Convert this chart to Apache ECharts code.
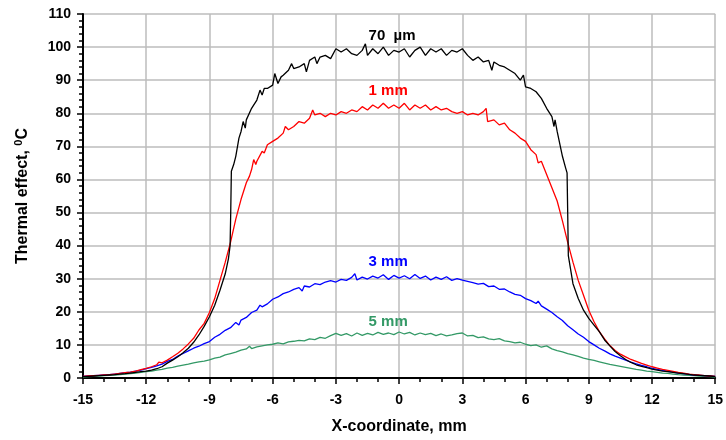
<!DOCTYPE html>
<html>
<head>
<meta charset="utf-8">
<script src="https://cdn.jsdelivr.net/npm/echarts@6/dist/echarts.min.js"></script>
<style>
  html, body { margin: 0; padding: 0; background: #fff; }
  #chart { width: 726px; height: 440px; }
</style>
</head>
<body>
<div id="chart"></div>
<script>
// [x (mm), thermal effect (C)]
const beam70um = [
  [-15, 0.4], [-14.75, 0.5], [-14.5, 0.6], [-14.25, 0.7], [-14, 0.8], [-13.75, 0.9], [-13.5, 1.0], [-13.25, 1.2],
  [-13, 1.3], [-12.75, 1.5], [-12.5, 1.7], [-12.25, 1.9], [-12, 2.1], [-11.75, 2.4], [-11.5, 2.8], [-11.25, 3.4],
  [-11, 4.5], [-10.75, 5.4], [-10.5, 6.4], [-10.25, 7.6], [-10, 9.0], [-9.75, 10.8], [-9.5, 13.0], [-9.25, 15.6],
  [-9, 18.5], [-8.75, 22], [-8.5, 26.5], [-8.25, 31.5], [-8.1, 36], [-8.02, 40], [-7.99, 50], [-7.96, 62.5],
  [-7.85, 64.5], [-7.75, 67], [-7.6, 72.5], [-7.5, 74.5], [-7.4, 77.5], [-7.3, 75.5], [-7.25, 78], [-7.0, 81.5],
  [-6.75, 84], [-6.6, 87], [-6.5, 85.5], [-6.4, 87.5], [-6.25, 87.5], [-6.0, 88.5], [-5.9, 92], [-5.75, 89],
  [-5.6, 91], [-5.5, 91.5], [-5.25, 93], [-5.1, 95], [-5.0, 93.5], [-4.75, 94], [-4.5, 95], [-4.4, 92.5],
  [-4.25, 96], [-4.0, 97], [-3.9, 95], [-3.75, 97], [-3.5, 97.5], [-3.25, 96.5], [-3.0, 99.5], [-2.75, 98.5],
  [-2.5, 99.5], [-2.25, 98], [-2.0, 97.5], [-1.75, 99], [-1.6, 101], [-1.5, 97.5], [-1.25, 99.5], [-1.0, 98],
  [-0.75, 100], [-0.5, 97.5], [-0.25, 99], [0, 98.5], [0.25, 99.5], [0.5, 97], [0.75, 99], [1.0, 100],
  [1.25, 97.5], [1.5, 99.5], [1.75, 98.5], [2.0, 99.5], [2.25, 97.5], [2.5, 99], [2.75, 98.5], [3.0, 99.5],
  [3.25, 97.5], [3.5, 96], [3.75, 97], [4.0, 95.5], [4.25, 96], [4.4, 93], [4.5, 95.5], [4.75, 94.5],
  [5.0, 94], [5.25, 93], [5.5, 92], [5.75, 90], [5.9, 91.5], [6.0, 88], [6.25, 87.5], [6.5, 86.5],
  [6.75, 84.5], [7.0, 81.5], [7.25, 79], [7.35, 76], [7.4, 78], [7.5, 74.5], [7.75, 67], [7.9, 63.5],
  [7.97, 62], [8.0, 50], [8.03, 37], [8.25, 28.5], [8.5, 24], [8.75, 20.5], [9.0, 18], [9.25, 16],
  [9.5, 14], [9.75, 11.5], [10.0, 9.7], [10.25, 8.0], [10.5, 6.7], [10.75, 5.6], [11.0, 4.7], [11.25, 4.0],
  [11.5, 3.5], [11.75, 3.1], [12, 2.7], [12.25, 2.4], [12.5, 2.1], [12.75, 1.9], [13, 1.7], [13.25, 1.5],
  [13.5, 1.3], [13.75, 1.1], [14, 0.9], [14.25, 0.8], [14.5, 0.7], [14.75, 0.6], [15, 0.4]
];

const beam1mm = [
  [-15, 0.5], [-14.75, 0.6], [-14.5, 0.7], [-14.25, 0.8], [-14, 0.9], [-13.75, 1.0], [-13.5, 1.2], [-13.25, 1.4],
  [-13, 1.6], [-12.75, 1.8], [-12.5, 2.1], [-12.25, 2.5], [-12, 2.9], [-11.75, 3.4], [-11.5, 4.0], [-11.4, 4.8],
  [-11.25, 4.6], [-11, 5.4], [-10.75, 6.4], [-10.5, 7.5], [-10.25, 8.8], [-10, 10.3], [-9.75, 12.0], [-9.5, 14.5],
  [-9.25, 16.5], [-9, 19.8], [-8.75, 24], [-8.5, 29.5], [-8.25, 35], [-8.0, 41], [-7.75, 48], [-7.5, 54],
  [-7.25, 59], [-7.1, 61], [-7.0, 63], [-6.9, 66], [-6.8, 64.5], [-6.75, 65.5], [-6.5, 68.5], [-6.4, 68],
  [-6.25, 70.5], [-6.0, 71.5], [-5.75, 72.5], [-5.5, 74], [-5.4, 76], [-5.25, 75], [-5.0, 76], [-4.75, 77.5],
  [-4.5, 77], [-4.25, 78.5], [-4.1, 81], [-4.0, 79.5], [-3.75, 80], [-3.5, 79], [-3.25, 80], [-3.0, 79.5],
  [-2.75, 80.5], [-2.5, 80], [-2.25, 81], [-2.0, 80.5], [-1.75, 82], [-1.5, 81], [-1.25, 82.5], [-1.0, 81.5],
  [-0.75, 83], [-0.5, 81.5], [-0.25, 82.5], [0, 81.5], [0.25, 83], [0.5, 81], [0.75, 82.5], [1.0, 81.5],
  [1.25, 82.5], [1.5, 81], [1.75, 82], [2.0, 81], [2.25, 81.5], [2.5, 80.5], [2.75, 80], [3.0, 80.5],
  [3.25, 79.5], [3.5, 80], [3.75, 79.5], [4.0, 80.5], [4.13, 81.5], [4.2, 77.5], [4.5, 78], [4.75, 76.5],
  [5.0, 77], [5.25, 75], [5.5, 74], [5.75, 72.5], [6.0, 71.5], [6.25, 69], [6.5, 67.5], [6.6, 65],
  [6.75, 65.5], [7.0, 61.5], [7.25, 57.5], [7.5, 53.5], [7.75, 47.5], [8.0, 41], [8.25, 35], [8.5, 29.5],
  [8.75, 25], [9.0, 20.5], [9.25, 17], [9.5, 14], [9.75, 11.8], [10, 9.8], [10.25, 8.3], [10.5, 7.2],
  [10.75, 6.4], [11, 5.6], [11.25, 5.0], [11.5, 4.4], [11.75, 3.9], [12, 3.4], [12.25, 3.0], [12.5, 2.6],
  [12.75, 2.3], [13, 2.0], [13.25, 1.7], [13.5, 1.5], [13.75, 1.2], [14, 1.0], [14.25, 0.9], [14.5, 0.7],
  [14.75, 0.6], [15, 0.5]
];

const beam3mm = [
  [-15, 0.5], [-14.75, 0.6], [-14.5, 0.7], [-14.25, 0.8], [-14, 0.9], [-13.75, 1.0], [-13.5, 1.2], [-13.25, 1.4],
  [-13, 1.6], [-12.75, 1.8], [-12.5, 2.1], [-12.25, 2.4], [-12, 2.8], [-11.75, 3.2], [-11.5, 3.7], [-11.25, 4.2],
  [-11, 5.0], [-10.75, 5.6], [-10.5, 6.6], [-10.25, 7.4], [-10, 8.2], [-9.75, 9.0], [-9.5, 9.6], [-9.25, 10.4],
  [-9.0, 11.0], [-8.75, 12.3], [-8.5, 13.2], [-8.25, 14.4], [-8, 15.2], [-7.75, 16.8], [-7.6, 16], [-7.5, 17.5],
  [-7.25, 18.3], [-7.0, 19.8], [-6.75, 20.5], [-6.6, 22], [-6.5, 21.5], [-6.25, 22.4], [-6.0, 23.8], [-5.75, 24.5],
  [-5.5, 25.5], [-5.25, 26.0], [-5.0, 26.8], [-4.75, 27.3], [-4.6, 26.3], [-4.5, 27.8], [-4.25, 27.5], [-4.0, 28.5],
  [-3.75, 28.2], [-3.5, 29.0], [-3.25, 29.4], [-3.0, 29.0], [-2.75, 29.8], [-2.5, 29.5], [-2.25, 30.4], [-2.1, 31.5],
  [-2.0, 29.6], [-1.75, 30.5], [-1.5, 29.9], [-1.25, 30.8], [-1.0, 30.2], [-0.75, 31.2], [-0.5, 29.8], [-0.25, 31.0],
  [0, 30.2], [0.25, 30.9], [0.5, 30.0], [0.75, 31.3], [1.0, 30.1], [1.25, 30.8], [1.5, 29.6], [1.75, 30.5],
  [2.0, 29.8], [2.25, 30.6], [2.5, 29.5], [2.75, 30.0], [3.0, 29.6], [3.25, 29.2], [3.5, 28.8], [3.75, 28.4],
  [4.0, 28.6], [4.25, 27.6], [4.5, 27.8], [4.75, 26.8], [5.0, 26.9], [5.25, 26.0], [5.5, 25.3], [5.75, 25.0],
  [6.0, 24.0], [6.25, 23.4], [6.5, 22.5], [6.6, 23.2], [6.75, 21.8], [7.0, 20.8], [7.25, 19.8], [7.5, 18.5],
  [7.75, 17.4], [8.0, 15.8], [8.25, 14.6], [8.5, 13.3], [8.75, 12.3], [9.0, 11.0], [9.25, 10.0], [9.5, 9.0],
  [9.75, 8.2], [10, 7.3], [10.25, 6.6], [10.5, 6.0], [10.75, 5.4], [11, 4.8], [11.25, 4.3], [11.5, 3.8],
  [11.75, 3.4], [12, 2.9], [12.25, 2.6], [12.5, 2.3], [12.75, 2.0], [13, 1.8], [13.25, 1.5], [13.5, 1.3],
  [13.75, 1.1], [14, 0.9], [14.25, 0.8], [14.5, 0.7], [14.75, 0.6], [15, 0.5]
];

const beam5mm = [
  [-15, 0.3], [-14.75, 0.4], [-14.5, 0.5], [-14.25, 0.6], [-14, 0.7], [-13.75, 0.8], [-13.5, 0.9], [-13.25, 1.0],
  [-13, 1.2], [-12.75, 1.3], [-12.5, 1.5], [-12.25, 1.7], [-12, 1.9], [-11.75, 2.1], [-11.5, 2.4], [-11.25, 2.6],
  [-11, 3.0], [-10.75, 3.2], [-10.5, 3.6], [-10.25, 3.9], [-10, 4.2], [-9.75, 4.6], [-9.5, 4.9], [-9.25, 5.1],
  [-9, 5.5], [-8.75, 6.0], [-8.5, 6.3], [-8.25, 7.0], [-8, 7.4], [-7.75, 7.8], [-7.5, 8.4], [-7.25, 8.8],
  [-7.1, 9.6], [-7.0, 8.9], [-6.75, 9.4], [-6.5, 9.7], [-6.25, 10.0], [-6.0, 10.2], [-5.75, 10.6], [-5.5, 10.3],
  [-5.25, 10.9], [-5.0, 11.1], [-4.75, 11.4], [-4.5, 11.2], [-4.25, 11.8], [-4.0, 11.6], [-3.75, 12.3], [-3.5, 12.0],
  [-3.25, 12.8], [-3.0, 13.5], [-2.75, 12.9], [-2.5, 13.4], [-2.25, 12.7], [-2.0, 13.6], [-1.75, 12.9], [-1.5, 13.5],
  [-1.25, 13.0], [-1.0, 13.8], [-0.75, 13.2], [-0.5, 13.6], [-0.25, 13.1], [0, 13.9], [0.25, 13.3], [0.5, 13.8],
  [0.75, 13.0], [1.0, 13.6], [1.25, 13.1], [1.5, 13.5], [1.75, 12.8], [2.0, 13.3], [2.25, 12.7], [2.5, 13.0],
  [2.75, 13.4], [3.0, 13.6], [3.25, 12.7], [3.5, 12.9], [3.75, 12.2], [4.0, 12.4], [4.25, 11.8], [4.5, 11.6],
  [4.75, 11.9], [5.0, 11.2], [5.25, 11.0], [5.5, 10.6], [5.75, 10.8], [6.0, 10.2], [6.25, 9.8], [6.5, 10.0],
  [6.75, 9.3], [7.0, 9.7], [7.25, 8.8], [7.5, 8.3], [7.75, 7.9], [8.0, 7.4], [8.25, 7.0], [8.5, 6.5],
  [8.75, 6.0], [9.0, 5.6], [9.25, 5.3], [9.5, 4.9], [9.75, 4.5], [10, 4.1], [10.25, 3.8], [10.5, 3.5],
  [10.75, 3.2], [11, 2.9], [11.25, 2.6], [11.5, 2.4], [11.75, 2.1], [12, 1.9], [12.25, 1.7], [12.5, 1.5],
  [12.75, 1.4], [13, 1.2], [13.25, 1.0], [13.5, 0.9], [13.75, 0.8], [14, 0.7], [14.25, 0.6], [14.5, 0.5],
  [14.75, 0.4], [15, 0.3]
];

const seriesNames = ['70  µm', '1 mm', '3 mm', '5 mm'];
const seriesColors = ['#000000', '#ff0000', '#0000ff', '#339966'];
// where each curve label starts: [x, y] in data units
const labelCoords = [[-1.45, 103.4], [-1.45, 86.7], [-1.45, 35.2], [-1.45, 17.1]];

const font = 'Liberation Sans, Arial, sans-serif';
const chart = echarts.init(document.getElementById('chart'));

const series = [beam70um, beam1mm, beam3mm, beam5mm].map((data, i) => ({
  name: seriesNames[i],
  type: 'line',
  data,
  showSymbol: false,
  symbol: 'none',
  animation: false,
  lineStyle: { color: seriesColors[i], width: 1.3 },
  z: 10 - i,
  markPoint: {
    symbol: 'circle',
    symbolSize: 0,
    data: [{ coord: labelCoords[i] }],
    label: {
      show: true,
      position: 'right',
      distance: 0,
      formatter: seriesNames[i],
      color: seriesColors[i],
      fontFamily: font,
      fontWeight: 'bold',
      fontSize: 15
    }
  }
}));

const option = {
  animation: false,
  grid: { left: 83, right: 8, top: 14, bottom: 61 },
  xAxis: {
    type: 'value',
    min: -15,
    max: 15,
    interval: 3,
    name: 'X-coordinate, mm',
    nameLocation: 'middle',
    nameGap: 41,
    nameTextStyle: { fontFamily: font, fontWeight: 'bold', fontSize: 16, color: '#000' },
    axisLine: { onZero: false, lineStyle: { color: '#000', width: 2 } },
    axisTick: { inside: false, length: 6, lineStyle: { color: '#000', width: 1.5 } },
    minorTick: { show: true, splitNumber: 3, length: 4, lineStyle: { color: '#000', width: 1.5 } },
    axisLabel: { fontFamily: font, fontWeight: 'bold', fontSize: 14, color: '#000', margin: 15 },
    splitLine: { show: true, lineStyle: { color: '#bdbdbd', width: 1.5 } }
  },
  yAxis: {
    type: 'value',
    min: 0,
    max: 110,
    interval: 10,
    name: '{a|Thermal effect, }{s|0}{a|C}',
    nameLocation: 'middle',
    nameGap: 50,
    nameTextStyle: {
      rich: {
        a: { fontFamily: font, fontWeight: 'bold', fontSize: 16, color: '#000' },
        s: { fontFamily: font, fontWeight: 'bold', fontSize: 11, color: '#000', padding: [0, 0, 9, 0] }
      }
    },
    axisLine: { show: true, onZero: false, lineStyle: { color: '#000', width: 2 } },
    axisTick: { inside: false, length: 6, lineStyle: { color: '#000', width: 1.5 } },
    minorTick: { show: true, splitNumber: 5, length: 4, lineStyle: { color: '#000', width: 1.5 } },
    axisLabel: { fontFamily: font, fontWeight: 'bold', fontSize: 14, color: '#000', margin: 12 },
    splitLine: { show: true, lineStyle: { color: '#bdbdbd', width: 1.5 } }
  },
  series
};

chart.setOption(option);
</script>
</body>
</html>
